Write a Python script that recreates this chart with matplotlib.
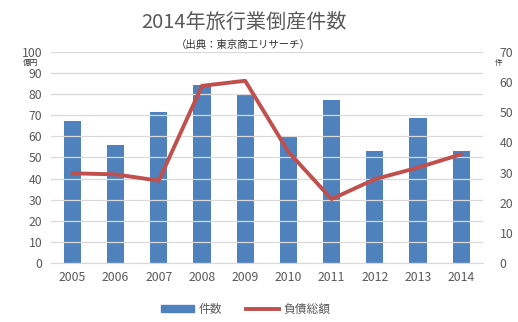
import matplotlib
matplotlib.use("Agg")
import matplotlib.pyplot as plt
from matplotlib.lines import Line2D
from matplotlib.patches import Patch
import numpy as np

plt.rcParams['font.family'] = ['Noto Sans CJK JP', 'DejaVu Sans']

years = ['2005', '2006', '2007', '2008', '2009', '2010', '2011', '2012', '2013', '2014']
counts = [47, 39, 50, 59, 56, 42, 54, 37, 48, 37]          # 件数 (right axis, 件)
debt = [42.5, 42.0, 39.0, 83.9, 86.3, 52.7, 30.3, 39.7, 45.2, 51.5]  # 負債総額 (left axis, 億円)

title = '2014年旅行業倒産件数'
subtitle = '（出典：東京商工リサーチ）'

bar_color = '#4F81BD'
line_color = '#C0504D'
text_color = '#595959'
grid_color = '#D9D9D9'

fig = plt.figure(figsize=(5.18, 3.22), dpi=100)
ax = fig.add_axes([0.098, 0.183, 0.834, 0.656])
ax2 = ax.twinx()

x = np.arange(len(years))
ax2.bar(x, counts, width=0.4, color=bar_color, zorder=2)
ax.plot(x, debt, color=line_color, lw=2.8, zorder=3, solid_capstyle='round')

ax.set_zorder(ax2.get_zorder() + 1)
ax.patch.set_visible(False)

ax.set_xlim(-0.5, len(years) - 0.5)
ax.set_ylim(0, 100)
ax2.set_ylim(0, 70)
ax.set_yticks(np.arange(0, 101, 10))
ax2.set_yticks(np.arange(0, 71, 10))
ax.set_xticks(x)
ax.set_xticklabels(years)

ax.grid(axis='y', color=grid_color, lw=0.9, zorder=0)
ax.set_axisbelow(True)
for a in (ax, ax2):
    for s in a.spines.values():
        s.set_visible(False)
    a.tick_params(length=0, colors=text_color, labelsize=8.8)
ax.spines['bottom'].set_visible(True)
ax.spines['bottom'].set_color(grid_color)
ax.tick_params(axis='x', pad=6)
ax.tick_params(axis='y', pad=6)
ax2.tick_params(axis='y', pad=12)

fig.text(0.47, 0.932, title, ha='center', va='center', fontsize=14.5, color=text_color)
fig.text(0.47, 0.860, subtitle, ha='center', va='center', fontsize=7.5, color='#333333')
fig.text(0.058, 0.803, '億円', ha='center', va='center', fontsize=5.5, color='#333333')
fig.text(0.962, 0.803, '件', ha='center', va='center', fontsize=5.5, color='#333333')

handles = [Patch(color=bar_color, label='件数'),
           Line2D([0], [0], color=line_color, lw=2.8, label='負債総額')]
fig.legend(handles=handles, loc='center', bbox_to_anchor=(0.475, 0.04), ncol=2,
           frameon=False, fontsize=8.5, labelcolor=text_color,
           handlelength=2.8, handleheight=0.5, columnspacing=2.0, handletextpad=0.4)

fig.savefig('out.png', dpi=100)
